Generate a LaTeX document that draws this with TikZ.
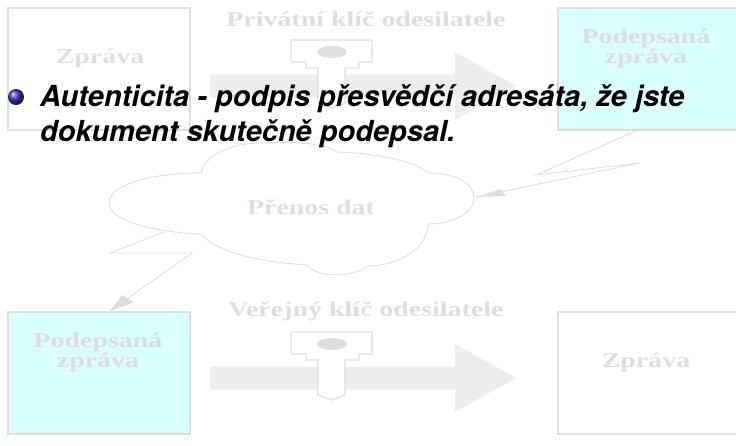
\documentclass[tikz,border=0pt]{standalone}
\usepackage{fontspec}
\setmainfont{TeX Gyre Heros}
\newfontfamily\lblfont[FakeStretch=1.33]{Liberation Serif}
\usetikzlibrary{
  positioning,
}
\definecolor{palegrey}{HTML}{DDDDDD}
\definecolor{arrowgrey}{HTML}{EDEDED}
\definecolor{palecyan}{HTML}{D9FFFF}
\definecolor{ballblue}{rgb}{0.2,0.2,0.7}
\tikzset{
  msgbox/.style={draw=palegrey, line width=1.5pt, minimum width=182pt, minimum height=122pt, inner sep=0pt, anchor=north west},
  lbl/.style={text=palegrey, font=\lblfont\fontsize{21}{20}\selectfont\bfseries, align=center, inner sep=0pt},
  slideline/.style={anchor=base west, inner sep=0pt, font=\fontsize{29}{35}\selectfont\bfseries\itshape},
  thinline/.style={draw=palegrey, line width=0.9pt},
  keypic/.pic={
    \draw [thinline, line width=1.3pt, fill=white] (-41,-12) -- (40,-12) -- (40,10) -- (27,10) -- (27,16) -- (13,16)
      -- (13,51) -- (0,56) -- (-14,51) -- (-14,16) -- (-26,16) -- (-26,10) -- (-41,10) -- cycle;
    \fill [palegrey] (0,0) ellipse (15 and 6);
  },
  bigarrow/.pic={
    \fill [arrowgrey] (0,-11.5) -- (245,-11.5) -- (245,-34) -- (306,0) -- (245,34) -- (245,11.5) -- (0,11.5) -- cycle;
  },
}
\begin{document}
\begin{tikzpicture}[x=1pt, y=-1pt]
  \useasboundingbox (0,0) rectangle (736,445);
  \clip (0,0) rectangle (736,445);
  % upper row
  \node [msgbox] (msgA) at (7,7) {};
  \node [msgbox, fill=palecyan] (signedA) at (557,7) {};
  \node [lbl] (msgAtxt) at (100,58) {Zpráva};
  \node [lbl] (signedAtxt) at (646,48) {Podepsaná\\zpráva};
  \node [lbl] (privkey) at (366,19) {Privátní klíč odesilatele};
  \pic at (210,86) {bigarrow};
  \pic at (332,52) {keypic};
  % cloud
  \draw [thinline] (201,173) .. controls (205,155) and (230,143) .. (262,143)
    .. controls (290,141) and (325,143) .. (337,152)
    .. controls (370,153) and (415,160) .. (428,173)
    .. controls (455,173) and (474,183) .. (474,198)
    .. controls (474,212) and (455,224) .. (428,224)
    .. controls (428,245) and (405,265) .. (368,266)
    .. controls (355,276) and (320,280) .. (307,265)
    .. controls (265,262) and (220,255) .. (201,234)
    .. controls (150,232) and (109,220) .. (109,203)
    .. controls (109,185) and (150,173) .. (201,173) -- cycle;
  \node [lbl] (cloudtxt) at (311,207) {Přenos dat};
  % lower row
  \node [msgbox, fill=palecyan] (signedB) at (7,311) {};
  \node [msgbox] (msgB) at (557,311) {};
  \node [lbl] (signedBtxt) at (98,352) {Podepsaná\\zpráva};
  \node [lbl] (msgBtxt) at (646,362) {Zpráva};
  \node [lbl] (pubkey) at (366,311) {Veřejný klíč odesilatele};
  \pic at (210,378) {bigarrow};
  \pic at (332,344) {keypic};
  % bolts
  \coordinate (boltA) at (638,130);
  \coordinate (boltB) at (536,175);
  \coordinate (boltC) at (640,163);
  \coordinate (boltD) at (476,197);
  \coordinate (boltE) at (164,232);
  \coordinate (boltF) at (110,253);
  \coordinate (boltG) at (192,253);
  \coordinate (boltH) at (110,311);
  \draw [thinline] (boltA) -- (boltB) -- (boltC) -- (boltD);
  \fill [palegrey] (boltD) -- (500,189) -- (506,196) -- cycle;
  \draw [thinline] (boltE) -- (boltF) -- (boltG) -- (boltH);
  \fill [palegrey] (boltH) -- (122,295) -- (134,302) -- cycle;
  % bullet
  \node [circle, minimum size=16pt, inner sep=0pt, shading=ball, ball color=ballblue] (bullet) at (16,97) {};
  \node [slideline] (first) at (40,106) {Autenticita - podpis přesvědčí adresáta, že jste};
  \node [slideline] (second) at (40,141) {dokument skutečně podepsal.};
\end{tikzpicture}
\end{document}
